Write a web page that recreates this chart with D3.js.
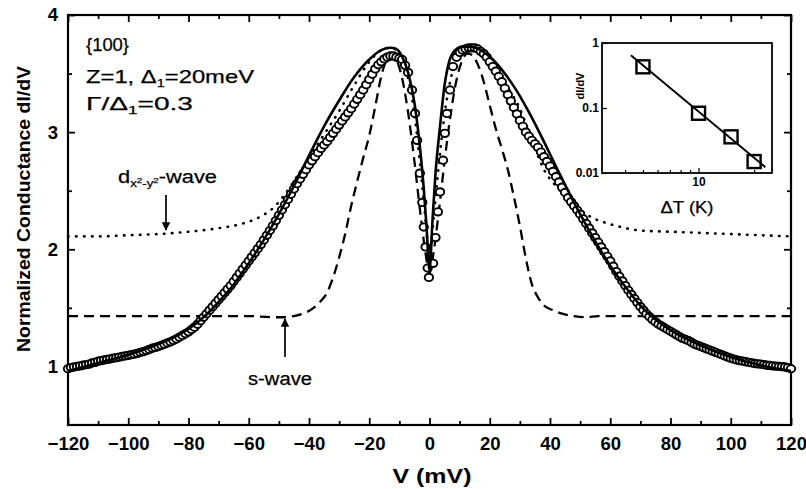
<!DOCTYPE html>
<html>
<head>
<meta charset="utf-8">
<script src="https://cdn.jsdelivr.net/npm/d3@7"></script>
<style>
body { margin: 0; background: #fff; }
text { font-family: "Liberation Sans", Arial, sans-serif; fill: #000; }
</style>
</head>
<body>
<svg id="chart" width="806" height="489"></svg>
<script>
// measured conductance (open circles), V in mV
const dataV = [-120,-119,-118,-117,-116,-115,-114,-113,-112,-111,-110,-109,-108,-107,-106,-105,-104,-103,-102,-101,
  -100,-99,-98,-97,-96,-95,-94,-93,-92,-91,-90,-89,-88,-87,-86,-85,-84,-83,-82,-81,
  -80,-79,-78,-77,-76,-75,-74,-73,-72,-71,-70,-69,-68,-67,-66,-65,-64,-63,-62,-61,
  -60,-59,-58,-57,-56,-55,-54,-53,-52,-51,-50,-49,-48,-47,-46,-45,-44,-43,-42,-41,
  -40,-39,-38,-37,-36,-35,-34,-33,-32,-31,-30,-29,-28,-27,-26,-25,-24,-23,-22,-21,
  -20,-19,-18,-17,-16,-15,-14,-13,-12,-11,-10,
  -9.1,-8.1,-7.1,-5.8,-4.8,-4.1,-3.2,-2.4,-1.9,-1.3,-0.6,-0.2,
  1.2,2.0,2.8,3.5,4.5,5.1,5.8,6.8,7.8,9.0,10.1,11,12,13,14,
  15,16,17,18,19,20,21,22,23,24,25,26,27,28,29,30,31,32,33,34,
  35,36,37,38,39,40,41,42,43,44,45,46,47,48,49,50,51,52,53,54,
  55,56,57,58,59,60,61,62,63,64,65,66,67,68,69,70,71,72,73,74,
  75,76,77,78,79,80,81,82,83,84,85,86,87,88,89,90,91,92,93,94,
  95,96,97,98,99,100,101,102,103,104,105,106,107,108,109,110,111,112,113,114,
  115,116,117,118,119,120];
const dataG = [0.98,0.99,0.995,1.0,1.005,1.01,1.015,1.02,1.03,1.035,1.045,1.05,1.055,1.06,1.065,1.07,1.075,1.08,1.085,1.09,
  1.095,1.1,1.105,1.112,1.12,1.127,1.135,1.145,1.155,1.162,1.17,1.18,1.19,1.2,1.21,1.222,1.235,1.25,1.265,1.28,
  1.295,1.315,1.335,1.36,1.39,1.42,1.45,1.48,1.51,1.54,1.57,1.6,1.63,1.66,1.69,1.725,1.76,1.795,1.83,1.865,
  1.9,1.935,1.97,2.005,2.04,2.08,2.12,2.16,2.2,2.245,2.29,2.335,2.38,2.425,2.47,2.515,2.56,2.6,2.64,2.68,
  2.72,2.755,2.79,2.825,2.86,2.89,2.92,2.955,2.99,3.025,3.06,3.095,3.13,3.165,3.2,3.24,3.28,3.32,3.36,3.405,
  3.45,3.495,3.54,3.575,3.6,3.625,3.64,3.65,3.65,3.64,3.63,
  3.62,3.57,3.51,3.36,3.16,2.93,2.65,2.4,2.19,2.02,1.84,1.76,
  1.88,2.1,2.32,2.49,2.76,2.99,3.16,3.36,3.56,3.64,3.68,3.7,3.71,3.72,3.72,
  3.72,3.71,3.69,3.67,3.64,3.6,3.56,3.52,3.475,3.43,3.375,3.32,3.265,3.21,3.155,3.1,3.05,3.0,2.965,2.93,
  2.9,2.87,2.83,2.79,2.75,2.71,2.665,2.62,2.575,2.53,2.485,2.44,2.405,2.37,2.335,2.3,2.26,2.22,2.18,2.14,
  2.1,2.06,2.02,1.98,1.94,1.9,1.855,1.81,1.77,1.73,1.69,1.65,1.615,1.58,1.545,1.51,1.48,1.45,1.425,1.4,
  1.38,1.36,1.345,1.33,1.315,1.3,1.285,1.27,1.255,1.24,1.23,1.22,1.205,1.19,1.18,1.17,1.16,1.15,1.14,1.13,
  1.12,1.11,1.1,1.09,1.08,1.07,1.062,1.055,1.05,1.045,1.04,1.035,1.03,1.025,1.022,1.02,1.015,1.01,1.008,1.005,
  1.002,1.0,0.998,0.995,0.99,0.98];

// fit (solid line)
const fitV = [-120,-110,-100,-90,-80,-75,-70,-65,-60,-55,-50,-45,-40,-35,-30,-25,-20,-16,-13,-11,-9,-7,-5,-3.5,-2,-1,0,1,2,3.5,5,6.5,8.5,11,14,17,21,25,29,33,37,41,45,50,55,60,65,70,75,80,90,100,110,120];
const fitG = [0.96,1.03,1.1,1.19,1.32,1.42,1.55,1.7,1.88,2.08,2.3,2.54,2.8,3.05,3.27,3.47,3.62,3.7,3.72,3.71,3.64,3.5,3.25,2.95,2.55,2.2,1.82,2.25,2.65,3.05,3.4,3.6,3.7,3.73,3.73,3.7,3.62,3.5,3.35,3.17,2.97,2.76,2.55,2.3,2.07,1.86,1.68,1.52,1.4,1.31,1.18,1.08,1.01,0.96];

// d(x2-y2)-wave (dotted line)
const dV = [-120,-110,-100,-90,-80,-70,-62,-56,-52,-48,-44,-40,-35,-30,-25,-20,-16,-13,-11,-9,-7,-5,-3,-1.5,0,1.5,3,5,7,9,11,13,16,20,25,30,35,38,42,46,50,54,58,62,70,80,90,100,110,120];
const dG = [2.11,2.11,2.12,2.13,2.15,2.18,2.22,2.28,2.35,2.47,2.62,2.78,2.98,3.18,3.4,3.6,3.7,3.72,3.7,3.62,3.45,3.15,2.7,2.3,1.95,2.3,2.7,3.15,3.45,3.62,3.7,3.72,3.7,3.6,3.42,3.2,2.86,2.68,2.54,2.43,2.34,2.27,2.23,2.2,2.16,2.15,2.14,2.13,2.12,2.11];

// s-wave (dashed line)
const sV = [-120,-100,-80,-60,-52,-48,-45,-42,-39,-36,-34,-32,-30,-28,-26,-24,-22,-20,-18,-16,-14,-12.5,-11,-9,-7,-5,-3,-1.5,0,1.5,3,5,7,9,11,12.5,14,16,18,20,22,24,26,28,30,32,34,36,38,41,44,48,52,56,60,80,100,120];
const sG = [1.43,1.43,1.43,1.43,1.42,1.42,1.43,1.45,1.49,1.56,1.63,1.76,1.93,2.13,2.37,2.58,2.78,2.97,3.22,3.48,3.63,3.67,3.62,3.45,3.15,2.75,2.3,2.0,1.8,2.0,2.3,2.75,3.15,3.45,3.62,3.67,3.66,3.58,3.43,3.23,3.03,2.86,2.68,2.45,2.2,1.92,1.7,1.59,1.52,1.48,1.45,1.43,1.42,1.43,1.43,1.43,1.43,1.43];

// inset: peak height vs temperature difference
const insetT = [5, 10, 15, 20];
const insetG = [0.43, 0.083, 0.036, 0.015];
const insetFitT = [4.3, 23];
const insetFitG = [0.65, 0.0123];

const xTicks = [-120,-100,-80,-60,-40,-20,0,20,40,60,80,100,120];
const xMinor = [-110,-90,-70,-50,-30,-10,10,30,50,70,90,110];
const yTicks = [1, 2, 3, 4];
const yMinor = [1.5, 2.5, 3.5];

const svg = d3.select("#chart");

const x = d3.scaleLinear().domain([-120, 120]).range([68, 791]);
const y = d3.scaleLinear().domain([0.5, 4]).range([425, 15]);

function styleAxis(g) {
	g.select(".domain").remove();
	g.selectAll(".tick line").attr("stroke", "#000").attr("stroke-width", 1.8);
	g.selectAll(".tick text")
		.style("font-family", '"Liberation Sans", Arial, sans-serif')
		.style("font-weight", "bold")
		.style("font-size", "18.5px")
		.attr("fill", "#000");
}

// main axes, ticks inward on all four sides
svg.append("g")
	.attr("transform", "translate(0,425)")
	.call(d3.axisBottom(x).tickValues(xTicks).tickSize(-7).tickPadding(12).tickFormat(d3.format("d")))
	.call(styleAxis);
svg.append("g")
	.attr("transform", "translate(0,425)")
	.call(d3.axisBottom(x).tickValues(xMinor).tickSize(-4).tickFormat(""))
	.call(styleAxis);
svg.append("g")
	.attr("transform", "translate(0,15)")
	.call(d3.axisTop(x).tickValues(xTicks).tickSize(-7).tickFormat(""))
	.call(styleAxis);
svg.append("g")
	.attr("transform", "translate(0,15)")
	.call(d3.axisTop(x).tickValues(xMinor).tickSize(-4).tickFormat(""))
	.call(styleAxis);
svg.append("g")
	.attr("transform", "translate(68,0)")
	.call(d3.axisLeft(y).tickValues(yTicks).tickSize(-7).tickPadding(10).tickFormat(d3.format("d")))
	.call(styleAxis);
svg.append("g")
	.attr("transform", "translate(68,0)")
	.call(d3.axisLeft(y).tickValues(yMinor).tickSize(-4).tickFormat(""))
	.call(styleAxis);
svg.append("g")
	.attr("transform", "translate(791,0)")
	.call(d3.axisRight(y).tickValues(yTicks).tickSize(-7).tickFormat(""))
	.call(styleAxis);
svg.append("g")
	.attr("transform", "translate(791,0)")
	.call(d3.axisRight(y).tickValues(yMinor).tickSize(-4).tickFormat(""))
	.call(styleAxis);

svg.append("rect")
	.attr("x", 68).attr("y", 15)
	.attr("width", 791 - 68).attr("height", 425 - 15)
	.attr("fill", "none").attr("stroke", "#000").attr("stroke-width", 2.2);

// axis titles
svg.append("text")
	.attr("transform", "translate(30,209) rotate(-90)")
	.attr("text-anchor", "middle")
	.attr("textLength", 286).attr("lengthAdjust", "spacingAndGlyphs")
	.style("font-size", "19px").style("font-weight", "bold")
	.text("Normalized Conductance dI/dV");
svg.append("text")
	.attr("x", 432).attr("y", 483)
	.attr("text-anchor", "middle")
	.attr("textLength", 79).attr("lengthAdjust", "spacingAndGlyphs")
	.style("font-size", "21px").style("font-weight", "bold")
	.text("V (mV)");

// curves
const line = (vs, gs) => d3.line()
	.x(i => x(vs[i]))
	.y(i => y(gs[i]))
	.curve(d3.curveMonotoneX)(d3.range(vs.length));

svg.append("path")
	.attr("d", line(dV, dG))
	.attr("fill", "none").attr("stroke", "#000")
	.attr("stroke-width", 2.6).attr("stroke-linecap", "round")
	.attr("stroke-dasharray", "0.5,7.5");

svg.append("path")
	.attr("d", line(sV, sG))
	.attr("fill", "none").attr("stroke", "#000")
	.attr("stroke-width", 2.3)
	.attr("stroke-dasharray", "10,6");

svg.append("g").selectAll("ellipse")
	.data(d3.range(dataV.length))
	.enter().append("ellipse")
	.attr("cx", i => x(dataV[i]))
	.attr("cy", i => y(dataG[i]))
	.attr("rx", 4.2).attr("ry", 3.7)
	.attr("fill", "#fff")
	.attr("stroke", "#000")
	.attr("stroke-width", 1.9);

svg.append("path")
	.attr("d", line(fitV, fitG))
	.attr("fill", "none").attr("stroke", "#000")
	.attr("stroke-width", 2.6);

// annotation text
const annot = (xx, yy, len) => svg.append("text")
	.attr("x", xx).attr("y", yy)
	.attr("textLength", len).attr("lengthAdjust", "spacingAndGlyphs")
	.style("font-size", "18px")
	.attr("stroke", "#000").attr("stroke-width", 0.25);

annot(86, 51, 43).text("{100}");
const l2 = annot(86, 83, 168);
l2.append("tspan").text("Z=1, Δ");
l2.append("tspan").attr("dy", 4).style("font-size", "11px").text("1");
l2.append("tspan").attr("dy", -4).text("=20meV");
const l3 = annot(86, 110, 107);
l3.append("tspan").text("Γ/Δ");
l3.append("tspan").attr("dy", 4).style("font-size", "11px").text("1");
l3.append("tspan").attr("dy", -4).text("=0.3");

// d-wave label
const dl = annot(118, 183, 99);
dl.append("tspan").text("d");
dl.append("tspan").attr("dy", 4).style("font-size", "11px").text("x");
dl.append("tspan").attr("dy", -4).style("font-size", "8px").text("2");
dl.append("tspan").attr("dy", 4).style("font-size", "11px").text("-y");
dl.append("tspan").attr("dy", -4).style("font-size", "8px").text("2");
dl.append("tspan").attr("dy", 0).text("-wave");

annot(248, 385, 64).text("s-wave");

svg.append("defs").append("marker")
	.attr("id", "arrow")
	.attr("viewBox", "0 0 10 10")
	.attr("refX", 9).attr("refY", 5)
	.attr("markerWidth", 5).attr("markerHeight", 5)
	.attr("orient", "auto")
	.append("path").attr("d", "M0,0 L10,5 L0,10 Z").attr("fill", "#000");

svg.append("line")
	.attr("x1", 166).attr("y1", 195).attr("x2", 166).attr("y2", 230)
	.attr("stroke", "#000").attr("stroke-width", 1.7)
	.attr("marker-end", "url(#arrow)");
svg.append("line")
	.attr("x1", 285).attr("y1", 357).attr("x2", 285).attr("y2", 319)
	.attr("stroke", "#000").attr("stroke-width", 1.7)
	.attr("marker-end", "url(#arrow)");

// inset
const xi = d3.scaleLog().domain([3, 25]).range([602, 772]);
const yi = d3.scaleLog().domain([0.01, 1]).range([173, 43]);

function styleInset(g) {
	g.select(".domain").remove();
	g.selectAll(".tick line").attr("stroke", "#000").attr("stroke-width", 1.2);
	g.selectAll(".tick text")
		.style("font-family", '"Liberation Sans", Arial, sans-serif')
		.style("font-weight", "bold")
		.style("font-size", "12px")
		.attr("fill", "#000");
}

svg.append("g")
	.attr("transform", "translate(0,173)")
	.call(d3.axisBottom(xi).tickValues([10]).tickSize(-5).tickPadding(4).tickFormat(d3.format("d")))
	.call(styleInset);
svg.append("g")
	.attr("transform", "translate(0,173)")
	.call(d3.axisBottom(xi).tickValues([4, 5, 6, 7, 8, 9, 20]).tickSize(-3).tickFormat(""))
	.call(styleInset);
svg.append("g")
	.attr("transform", "translate(602,0)")
	.call(d3.axisLeft(yi).tickValues([0.01, 0.1, 1]).tickSize(-5).tickPadding(3).tickFormat(d => d === 1 ? "1" : d === 0.1 ? "0.1" : "0.01"))
	.call(styleInset);

svg.append("rect")
	.attr("x", 602).attr("y", 43)
	.attr("width", 772 - 602).attr("height", 173 - 43)
	.attr("fill", "none").attr("stroke", "#000").attr("stroke-width", 1.8);

svg.append("text")
	.attr("transform", "translate(584,86) rotate(-90)")
	.attr("text-anchor", "middle")
	.style("font-size", "11px").style("font-weight", "bold")
	.text("dI/dV");
svg.append("text")
	.attr("x", 687).attr("y", 213)
	.attr("text-anchor", "middle")
	.attr("textLength", 53).attr("lengthAdjust", "spacingAndGlyphs")
	.attr("stroke", "#000").attr("stroke-width", 0.25)
	.style("font-size", "16px")
	.text("ΔT (K)");

svg.append("line")
	.attr("x1", xi(insetFitT[0])).attr("y1", yi(insetFitG[0]))
	.attr("x2", xi(insetFitT[1])).attr("y2", yi(insetFitG[1]))
	.attr("stroke", "#000").attr("stroke-width", 2);

svg.append("g").selectAll("rect")
	.data(d3.range(insetT.length))
	.enter().append("rect")
	.attr("x", i => xi(insetT[i]) - 6.5)
	.attr("y", i => yi(insetG[i]) - 6.5)
	.attr("width", 13).attr("height", 13)
	.attr("fill", "none").attr("stroke", "#000").attr("stroke-width", 2.4);
</script>
</body>
</html>
